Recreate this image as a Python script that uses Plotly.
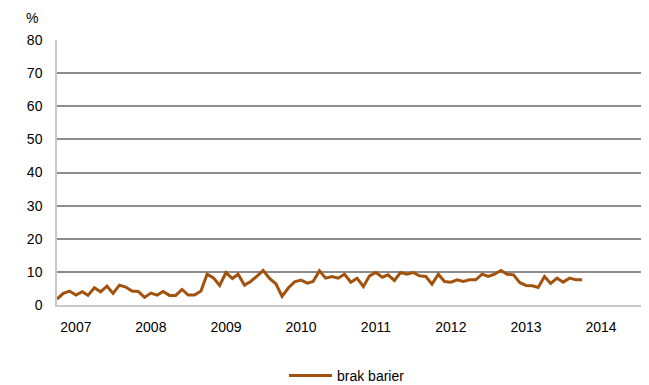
import plotly.graph_objects as go
import pandas as pd

# Monthly observations, Oct 2006 .. Oct 2013 (share in %)
start_month = "2006-10-01"
values = [
    1.8, 3.5, 4.2, 3.0, 4.0, 2.9, 5.2, 4.0, 5.7, 3.5, 6.0, 5.4,
    4.2, 4.1, 2.3, 3.6, 3.0, 4.1, 2.9, 2.9, 4.7, 3.0, 3.0, 4.2,
    9.3, 8.2, 5.9, 9.8, 8.0, 9.3, 6.0, 7.1, 8.7, 10.4, 8.0, 6.4,
    2.6, 5.2, 7.0, 7.5, 6.6, 7.1, 10.3, 8.1, 8.6, 8.1, 9.3, 6.9,
    8.1, 5.6, 8.8, 9.8, 8.4, 9.1, 7.4, 9.8, 9.3, 9.8, 8.8, 8.6,
    6.3, 9.3, 7.1, 6.9, 7.6, 7.1, 7.6, 7.6, 9.3, 8.6, 9.3, 10.4,
    9.3, 9.1, 6.8, 5.9, 5.8, 5.3, 8.6, 6.5, 8.1, 6.9, 8.1, 7.6,
    7.6,
]
dates = pd.date_range(start_month, periods=len(values), freq="MS")

year_ticks = ["2007-01-01", "2008-01-01", "2009-01-01", "2010-01-01",
              "2011-01-01", "2012-01-01", "2013-01-01", "2014-01-01"]
year_labels = ["2007", "2008", "2009", "2010", "2011", "2012", "2013", "2014"]
y_ticks = [0, 10, 20, 30, 40, 50, 60, 70, 80]

series_name = "brak barier"
line_color = "#A3520E"
font_family = "Liberation Sans, Arial, sans-serif"

# page body has an 8px default margin; the figure is sized to fit inside it
W, H = 641, 377
ML, MR, MT, MB = 49, 1, 32, 80
PW, PH = W - ML - MR, H - MT - MB

fig = go.Figure()
fig.add_trace(go.Scatter(
    x=dates, y=values, mode="lines", name=series_name,
    line=dict(color=line_color, width=3),
    showlegend=True,
))

fig.update_layout(
    width=W, height=H,
    margin=dict(l=ML, r=MR, t=MT, b=MB, autoexpand=False),
    paper_bgcolor="white", plot_bgcolor="white",
    font=dict(family=font_family, size=14, color="#000000"),
    showlegend=True,
    legend=dict(
        orientation="h", x=(282 - 6 - ML) / PW, xanchor="left",
        y=(PH - (376 - 8 - MT)) / PH, yanchor="middle",
        font=dict(size=14), itemwidth=43, bgcolor="rgba(0,0,0,0)",
    ),
    xaxis=dict(
        type="date",
        range=["2006-10-01", "2014-08-18"],
        tickvals=year_ticks, ticktext=year_labels,
        showgrid=False, zeroline=False,
        showline=True, linecolor="#c8c8c8", linewidth=1.5,
        ticks="", ticklabelstandoff=8, automargin=False,
    ),
    yaxis=dict(
        range=[0, 80], tickvals=y_ticks,
        showgrid=True, gridcolor="#8c8c8c", gridwidth=1.6,
        zeroline=False,
        showline=True, linecolor="#c8c8c8", linewidth=1.5,
        ticks="", ticklabelstandoff=10, automargin=False,
    ),
    annotations=[dict(
        text="%", xref="paper", yref="paper",
        x=(32 - 8 - ML) / PW, y=(PH - (18 - 8 - MT)) / PH,
        xanchor="center", yanchor="middle", showarrow=False,
        font=dict(size=14),
    )],
)

fig.write_html("out.html")
